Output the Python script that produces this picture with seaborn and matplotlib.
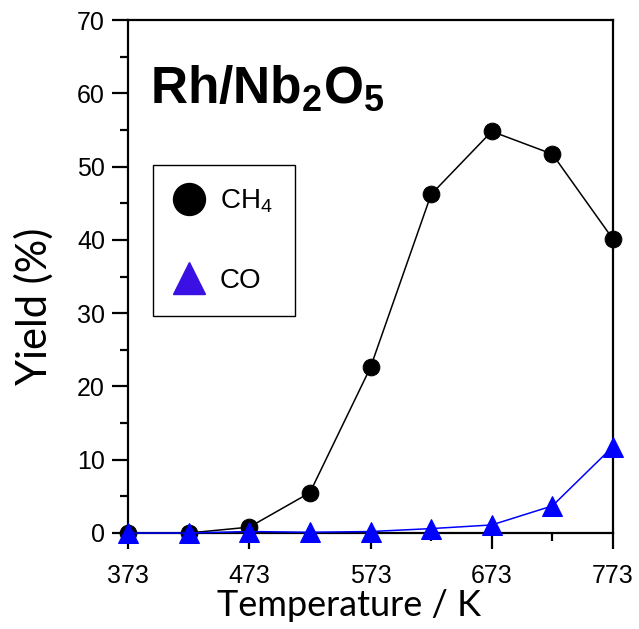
import matplotlib
matplotlib.use("Agg")
import matplotlib.pyplot as plt
import seaborn as sns
import pandas as pd
from matplotlib.lines import Line2D
from matplotlib.ticker import MultipleLocator

temperature = [373, 423, 473, 523, 573, 623, 673, 723, 773]
ch4_yield = [0.0, 0.0, 0.8, 5.5, 22.6, 46.2, 54.8, 51.7, 40.1]
co_yield = [0.0, 0.0, 0.2, 0.1, 0.2, 0.6, 1.1, 3.7, 11.8]
x_ticks = [373, 473, 573, 673, 773]
x_minor = [423, 523, 623, 723]
y_ticks = [0, 10, 20, 30, 40, 50, 60, 70]

sns.set_theme(style="ticks")
plt.rcParams['font.family'] = ['Liberation Sans', 'DejaVu Sans']
plt.rcParams['mathtext.fontset'] = 'custom'
plt.rcParams['mathtext.rm'] = 'Liberation Sans'
plt.rcParams['mathtext.it'] = 'Liberation Sans:italic'
plt.rcParams['mathtext.bf'] = 'Liberation Sans:bold'
plt.rcParams['text.color'] = 'black'
plt.rcParams['axes.labelcolor'] = 'black'
plt.rcParams['xtick.color'] = 'black'
plt.rcParams['ytick.color'] = 'black'

df_ch4 = pd.DataFrame({"T": temperature, "Y": ch4_yield})
df_co = pd.DataFrame({"T": temperature, "Y": co_yield})

fig = plt.figure(figsize=(6.39, 6.29), dpi=100)
ax = fig.add_axes([128/639, 1 - 533/629, (613-128)/639, (533-20)/629])

sns.lineplot(data=df_ch4, x="T", y="Y", ax=ax, color="black", linewidth=1.1,
             marker="o", markersize=12, markeredgecolor="black", clip_on=False, zorder=3)
sns.lineplot(data=df_co, x="T", y="Y", ax=ax, color="#0000ff", linewidth=1.1,
             marker="^", markersize=14, markeredgecolor="#0000ff", clip_on=False, zorder=4)

ax.set_xlim(373, 773)
ax.set_ylim(0, 70)
ax.set_xticks(x_ticks)
ax.set_yticks(y_ticks)
ax.set_xticks(x_minor, minor=True)
ax.yaxis.set_minor_locator(MultipleLocator(5))

for s in ax.spines.values():
    s.set_linewidth(1.6)
    s.set_color("black")
ax.tick_params(axis="both", which="major", direction="out", length=11.5, width=1.6,
               labelsize=18, colors="black")
ax.tick_params(axis="x", which="major", pad=11)
ax.tick_params(axis="y", which="major", pad=5)
ax.tick_params(axis="both", which="minor", direction="out", length=6, width=1.6)
ax.tick_params(top=False, right=False, which="both")

ax.set_xlabel("Temperature / K", fontsize=26, family=["Lato", "DejaVu Sans"], color="black")
ax.set_ylabel("Yield (%)", fontsize=30, family=["Lato", "DejaVu Sans"], color="black")
ax.xaxis.set_label_coords((349-128)/485, -(589-533)/513)
ax.yaxis.set_label_coords(-(128-54)/485, (533-306)/513)

ax.text((150-128)/485, (533-103)/513, r"Rh/Nb$_\mathbf{2}$O$_\mathbf{5}$",
        transform=ax.transAxes, fontsize=37, fontweight="bold", color="black",
        ha="left", va="baseline")

handles = [
    Line2D([], [], linestyle="none", marker="o", markersize=23, color="black"),
    Line2D([], [], linestyle="none", marker="^", markersize=23, color="#3a10e5"),
]
leg = ax.legend(handles, [r"CH$_4$", "CO"], loc="upper left",
                bbox_to_anchor=((153-128)/485, (533-165)/513), borderaxespad=0,
                fontsize=20, frameon=True, fancybox=False, edgecolor="black",
                framealpha=1, borderpad=0.8, labelspacing=1.9,
                handletextpad=0.6, handlelength=1.0, labelcolor="black")
leg.get_frame().set_linewidth(1.0)

fig.savefig("out.png", dpi=100)
